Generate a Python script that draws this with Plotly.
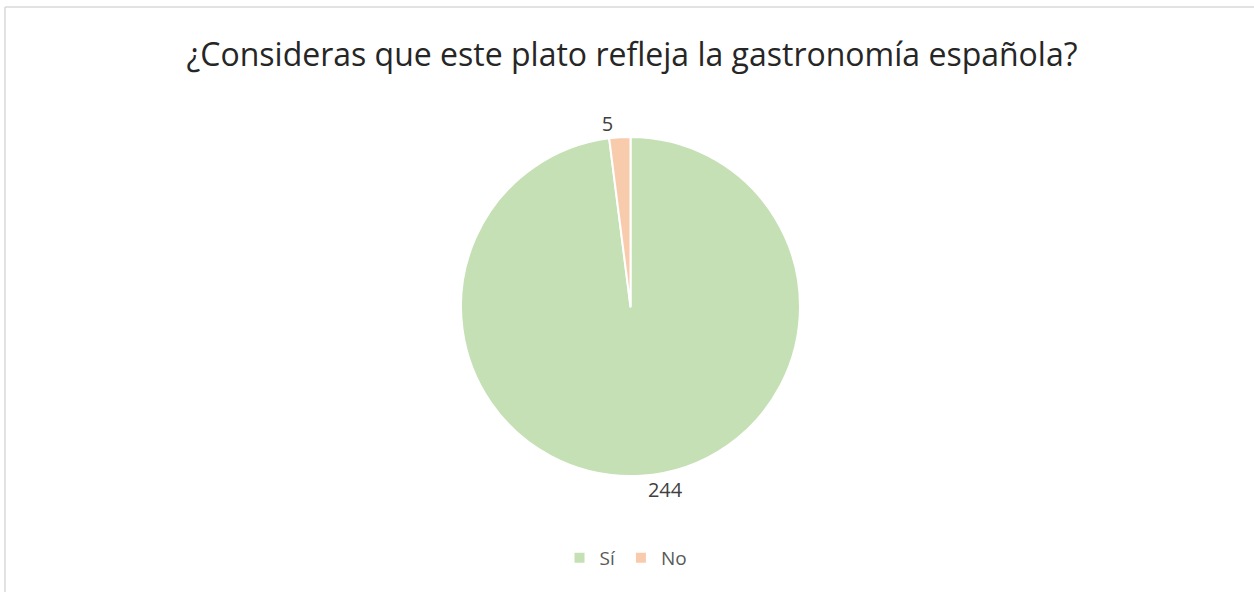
import plotly.graph_objects as go

labels = ["Sí", "No"]
values = [244, 5]
colors = ["#C5E0B4", "#F8CBAD"]

W, H = 1254, 592

fig = go.Figure(go.Pie(
    labels=labels,
    values=values,
    sort=False,
    direction="clockwise",
    rotation=0,
    marker=dict(colors=colors, line=dict(color="white", width=2)),
    textinfo="value",
    textposition="outside",
    textfont=dict(size=20, color="#404040"),
    domain=dict(x=[461 / W, 800 / W], y=[1 - 476 / H, 1 - 137 / H]),
))

# chart frame: only top and left edges are visible in the original
frame = dict(color="#D9D9D9", width=1.5)
fig.update_layout(
    width=W, height=H,
    margin=dict(l=0, r=0, t=0, b=0),
    paper_bgcolor="white",
    font=dict(family="Open Sans, Liberation Sans, sans-serif", color="#595959"),
    title=dict(text="¿Consideras que este plato refleja la gastronomía española?",
               x=632 / W, xanchor="center", y=1 - 55 / H, yanchor="middle",
               font=dict(size=32, color="#262626")),
    legend=dict(orientation="h", x=626 / W, xanchor="center", y=1 - 558 / H, yanchor="middle",
                font=dict(size=19, color="#595959"), itemwidth=30),
    shapes=[
        dict(type="line", xref="paper", yref="paper", x0=5 / W, x1=1.0,
             y0=1 - 7 / H, y1=1 - 7 / H, line=frame),
        dict(type="line", xref="paper", yref="paper", x0=5 / W, x1=5 / W,
             y0=0, y1=1 - 7 / H, line=frame),
    ],
)

fig.write_html("out.html", config={"displayModeBar": False},
               post_script="document.body.style.margin='0';document.body.style.overflow='hidden';")
